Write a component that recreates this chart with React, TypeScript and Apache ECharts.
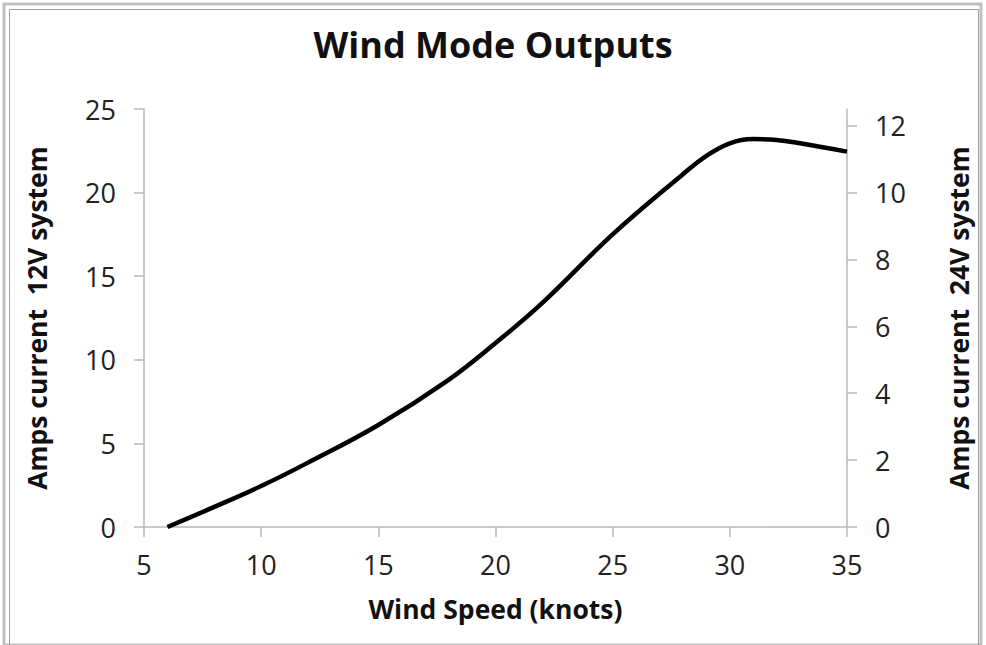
import React, { useEffect, useRef } from "react";
import * as echarts from "echarts";

const windSpeed = [6, 8, 10, 12, 15, 18, 20, 22, 25, 28, 29, 30, 31, 32, 33, 35];
const amps12V = [0, 1.2, 2.45, 3.85, 6.1, 8.8, 11.0, 13.4, 17.5, 21.1, 22.2, 22.95, 23.2, 23.15, 22.95, 22.45];
const rightTicks = [0, 2, 4, 6, 8, 10, 12];

const FONT = "'Open Sans', 'Noto Sans', sans-serif";

export default function App() {
  const ref = useRef<HTMLDivElement>(null);
  useEffect(() => {
    document.body.style.margin = "0";
    const chart = echarts.init(ref.current!, null, { renderer: "svg" });
    const labelStyle = { color: "#222", fontSize: 27, fontFamily: FONT };
    const nameStyle = { color: "#111", fontSize: 26.5, fontWeight: "bold" as const, fontFamily: FONT };
    const axisLine = { show: true, lineStyle: { color: "#b8b8b8", width: 1.5 } };
    const tick = { show: true, length: 10, lineStyle: { color: "#b8b8b8", width: 1.5 } };
    chart.setOption({
      animation: false,
      backgroundColor: "#fff",
      title: {
        text: "Wind Mode Outputs",
        left: "center",
        top: 21,
        textStyle: { color: "#111", fontSize: 36, fontWeight: "bold", fontFamily: FONT },
      },
      graphic: [
        { type: "rect", shape: { x: 4, y: 4, width: 977, height: 641 }, style: { fill: "none", stroke: "#c0c0c0", lineWidth: 3 } },
        { type: "rect", shape: { x: 9.5, y: 9.5, width: 969, height: 640 }, style: { fill: "none", stroke: "#a0a0a0", lineWidth: 1 } },
      ],
      grid: { left: 144, right: 139, top: 109, bottom: 118 },
      xAxis: {
        type: "value",
        min: 5,
        max: 35,
        interval: 5,
        name: "Wind Speed (knots)",
        nameLocation: "middle",
        nameGap: 68,
        nameTextStyle: nameStyle,
        axisLine,
        axisTick: tick,
        axisLabel: { ...labelStyle, margin: 24 },
        splitLine: { show: false },
      },
      yAxis: [
        {
          type: "value",
          min: 0,
          max: 25,
          interval: 5,
          position: "left",
          name: "Amps current  12V system",
          nameLocation: "middle",
          nameRotate: 90,
          nameGap: 94,
          nameTextStyle: nameStyle,
          axisLine,
          axisTick: tick,
          axisLabel: { ...labelStyle, margin: 28 },
          splitLine: { show: false },
        },
        {
          type: "value",
          min: 0,
          max: 12.5,
          interval: 2,
          position: "right",
          name: "Amps current  24V system",
          nameLocation: "middle",
          nameRotate: 90,
          nameGap: 98,
          nameTextStyle: nameStyle,
          axisLine,
          axisTick: { ...tick, customValues: rightTicks },
          axisLabel: { ...labelStyle, margin: 28, customValues: rightTicks },
          splitLine: { show: false },
        },
      ],
      series: [
        {
          type: "line",
          yAxisIndex: 0,
          data: windSpeed.map((x, i) => [x, amps12V[i]]),
          smooth: 0.4,
          symbol: "none",
          lineStyle: { color: "#000", width: 4.5 },
        },
      ],
    });
    return () => chart.dispose();
  }, []);
  return <div ref={ref} style={{ width: 986, height: 645, position: "absolute", left: 0, top: 0 }} />;
}
